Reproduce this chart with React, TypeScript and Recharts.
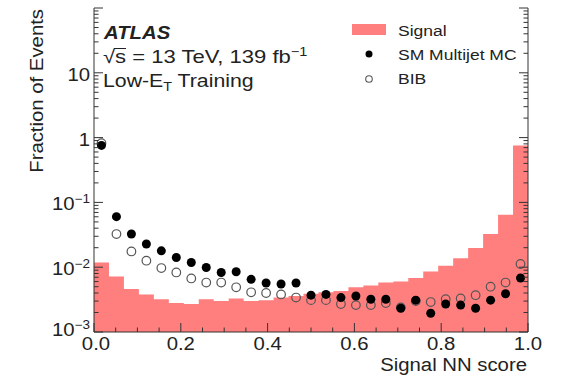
import React from "react";
import { ComposedChart, Area, Scatter, XAxis, YAxis } from "recharts";

const NBINS = 29;
const signal = [0.0118, 0.0072, 0.0046, 0.0038, 0.0032, 0.0028, 0.0027, 0.0032, 0.003, 0.0033, 0.003, 0.0031, 0.0034, 0.0036, 0.0039, 0.0041, 0.0043, 0.0049, 0.0052, 0.0058, 0.006, 0.0068, 0.0086, 0.0105, 0.0138, 0.0197, 0.0325, 0.0647, 0.757];
const multijet = [0.757, 0.0603, 0.0325, 0.0228, 0.0179, 0.0141, 0.0118, 0.0099, 0.0083, 0.0085, 0.0065, 0.0057, 0.0055, 0.0057, 0.0037, 0.0038, 0.0034, 0.0036, 0.0032, 0.0032, 0.00233, 0.0031, 0.00195, 0.0027, 0.0026, 0.00233, 0.0031, 0.0039, 0.0068];
const bib = [0.82, 0.0325, 0.0175, 0.0126, 0.0097, 0.0083, 0.0067, 0.0058, 0.0058, 0.0049, 0.0041, 0.004, 0.0038, 0.0034, 0.0031, 0.0031, 0.0027, 0.0026, 0.0026, 0.0028, 0.0024, 0.003, 0.0029, 0.0032, 0.0033, 0.0037, 0.005, 0.0058, 0.0112];

const xMajorTicks = [0, 0.2, 0.4, 0.6, 0.8, 1.0];
const xTickLabels = ["0.0", "0.2", "0.4", "0.6", "0.8", "1.0"];
const yMajorTicks = [0.001, 0.01, 0.1, 1, 10, 100];
const yTickBase = ["10", "10", "10", "1", "10", ""];
const yTickExp = ["\u22123", "\u22122", "\u22121", "", "", ""];

const signalData = Array.from({ length: NBINS + 1 }, (_, k) => ({ x: k / NBINS, y: signal[Math.min(k, NBINS - 1)] }));
const mjData = multijet.map((v, i) => ({ x: (i + 0.5) / NBINS, y: v }));
const bibData = bib.map((v, i) => ({ x: (i + 0.5) / NBINS, y: v }));

const xAllTicks = Array.from({ length: 21 }, (_, i) => Math.round(i * 5) / 100);
const yAllTicks: number[] = [];
for (let d = -3; d <= 1; d++) {
  for (let m = 1; m <= 9; m++) yAllTicks.push(m * Math.pow(10, d));
}
yAllTicks.push(100);

const AX = "#333";
const FONT = "'Liberation Sans', Arial, Helvetica, sans-serif";
const SX = 1.13;
const FILL = "#ff7f7f";

const isMajorX = (v: number) => xMajorTicks.findIndex((m) => Math.abs(m - v) < 1e-6);
const isMajorY = (v: number) => yMajorTicks.findIndex((m) => Math.abs(m - v) / m < 1e-6);

function BottomTick(props: any) {
  const { x, y, payload } = props;
  const i = isMajorX(payload.value);
  const len = i >= 0 ? 9 : 4.5;
  return (
    <g>
      <line x1={x} x2={x} y1={y} y2={y - len} stroke={AX} strokeWidth={1} />
      {i >= 0 && (
        <g transform={`translate(${x + (i === 0 ? 2 : 0)},${y + 18}) scale(${SX},1)`}>
          <text x={0} y={0} textAnchor="middle" fontFamily={FONT} fontSize={18} fill="#222">{xTickLabels[i]}</text>
        </g>
      )}
    </g>
  );
}

function TopTick(props: any) {
  const { x, y, payload } = props;
  const i = isMajorX(payload.value);
  const len = i >= 0 ? 9 : 4.5;
  return <line x1={x} x2={x} y1={y} y2={y + len} stroke={AX} strokeWidth={1} />;
}

function LeftTick(props: any) {
  const { x, y, payload } = props;
  const i = isMajorY(payload.value);
  const len = i >= 0 ? 9 : 4.5;
  const dy = i === 0 ? 4 : 8;
  return (
    <g>
      <line x1={x} x2={x + len} y1={y} y2={y} stroke={AX} strokeWidth={1} />
      {i >= 0 && yTickBase[i] && (
        <g transform={`translate(${x - 4},${y + dy}) scale(${SX},1)`}>
          <text x={0} y={0} textAnchor="end" fontFamily={FONT} fontSize={18} fill="#222">
            {yTickBase[i]}
            {yTickExp[i] && (
              <tspan dy={-7} fontSize={12}>{yTickExp[i]}</tspan>
            )}
          </text>
        </g>
      )}
    </g>
  );
}

function RightTick(props: any) {
  const { x, y, payload } = props;
  const i = isMajorY(payload.value);
  const len = i >= 0 ? 9 : 4.5;
  return <line x1={x} x2={x - len} y1={y} y2={y} stroke={AX} strokeWidth={1} />;
}

const Dot = (p: any) => <circle cx={p.cx} cy={p.cy} r={4.5} fill="#000" />;
const Ring = (p: any) => <circle cx={p.cx} cy={p.cy} r={4.3} fill="none" stroke="#555" strokeWidth={1.2} />;

function T(props: any) {
  const { x, y, anchor = "start", size = 18, children, weight, style, rotate, sx = SX } = props;
  const tr = rotate ? `translate(${x},${y}) rotate(${rotate}) scale(${sx},1)` : `translate(${x},${y}) scale(${sx},1)`;
  return (
    <g transform={tr}>
      <text x={0} y={0} textAnchor={anchor} fontFamily={FONT} fontSize={size} fontWeight={weight} fontStyle={style} fill="#222">
        {children}
      </text>
    </g>
  );
}

export default function App() {
  return (
    <div style={{ position: "absolute", left: 0, top: 0, width: 564, height: 376, background: "#fff" }}>
      <ComposedChart width={564} height={376} margin={{ top: 8, right: 0, bottom: 0, left: 0 }}>
        <XAxis xAxisId="b" type="number" dataKey="x" domain={[0, 1]} ticks={xAllTicks} interval={0} tick={<BottomTick />} tickLine={false} tickSize={0} tickMargin={0} axisLine={{ stroke: AX }} height={44} allowDataOverflow />
        <XAxis xAxisId="t" orientation="top" type="number" dataKey="x" domain={[0, 1]} ticks={xAllTicks} interval={0} tick={<TopTick />} tickLine={false} tickSize={0} tickMargin={0} axisLine={{ stroke: AX }} height={0} allowDataOverflow />
        <YAxis yAxisId="l" type="number" scale="log" domain={[0.001, 100]} ticks={yAllTicks} interval={0} tick={<LeftTick />} tickLine={false} tickSize={0} tickMargin={0} axisLine={{ stroke: AX }} width={94} allowDataOverflow />
        <YAxis yAxisId="r" orientation="right" type="number" scale="log" domain={[0.001, 100]} ticks={yAllTicks} interval={0} tick={<RightTick />} tickLine={false} tickSize={0} tickMargin={0} axisLine={{ stroke: AX }} width={36} allowDataOverflow />
        <Area xAxisId="b" yAxisId="l" data={signalData} dataKey="y" type="stepAfter" fill={FILL} fillOpacity={1} stroke="none" baseValue={0.001} isAnimationActive={false} dot={false} activeDot={false} />
        <Scatter xAxisId="b" yAxisId="l" data={bibData} dataKey="y" shape={Ring} isAnimationActive={false} />
        <Scatter xAxisId="b" yAxisId="l" data={mjData} dataKey="y" shape={Dot} isAnimationActive={false} />
      </ComposedChart>
      <svg width={564} height={376} style={{ position: "absolute", left: 0, top: 0, pointerEvents: "none" }}>
        <T x={104} y={39} size={18} weight="bold" style="italic">ATLAS</T>
        <T x={103} y={63} size={19} sx={1.16}>
          {"\u221As = 13 TeV, 139 fb"}
          <tspan dy={-7} fontSize={12.5}>{"\u22121"}</tspan>
        </T>
        <line x1={114} x2={126} y1={48.5} y2={48.5} stroke="#222" strokeWidth={1} />
        <T x={103} y={87} size={18.5} sx={1.15}>
          {"Low-E"}
          <tspan dy={4} fontSize={12.5}>T</tspan>
          <tspan dy={-4}>{" Training"}</tspan>
        </T>
        <rect x={352} y={24} width={34} height={11} fill={FILL} />
        <T x={398} y={36} size={15.5}>Signal</T>
        <circle cx={369} cy={54} r={3.5} fill="#000" />
        <T x={398} y={60} size={15.5}>SM Multijet MC</T>
        <circle cx={369} cy={79} r={3.3} fill="none" stroke="#555" strokeWidth={1.1} />
        <T x={398} y={84} size={15.5}>BIB</T>
        <T x={527} y={371} size={18} anchor="end">Signal NN score</T>
        <T x={43} y={9} size={18} anchor="end" rotate={-90}>Fraction of Events</T>
      </svg>
    </div>
  );
}
